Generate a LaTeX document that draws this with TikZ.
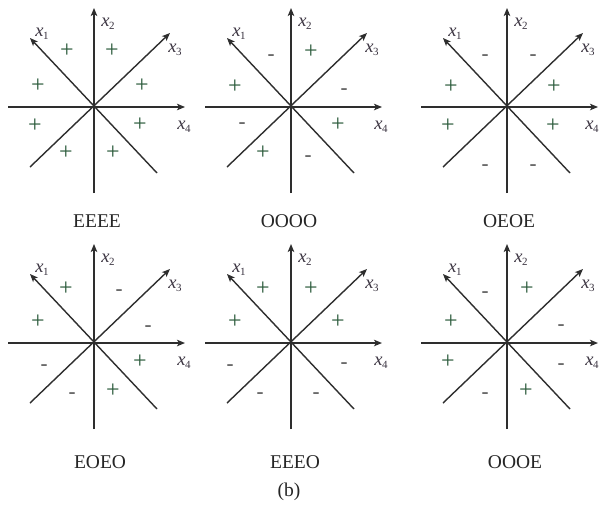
\documentclass[tikz,border=0pt]{standalone}
\usepackage{fontspec}
\setmainfont{Liberation Serif}
\usetikzlibrary{arrows.meta}
\definecolor{axc}{HTML}{2E2E2E}
\definecolor{pc}{HTML}{2A5A3A}
\definecolor{mc}{HTML}{505050}
\definecolor{lc}{HTML}{3A3340}
\tikzset{
  axline/.style={draw=axc, line width=1.4pt},
  axarrow/.style={axline, -{Stealth[length=8pt,width=6.5pt,inset=2pt]}},
  axlab/.style={text=lc, inner sep=0pt, font=\fontsize{18.5}{18.5}\selectfont\itshape},
  psign/.style={node contents={+}, text=pc, anchor=base, yshift=-5.8pt, inner sep=0pt, font=\fontsize{24}{24}\selectfont},
  msign/.style={node contents={-}, text=mc, anchor=base, yshift=-5pt, inner sep=0pt, font=\fontsize{21}{21}\selectfont},
  caption/.style={text=black!85, inner sep=0pt, font=\fontsize{19.5}{19.5}\selectfont},
}
\newcommand\sub[1]{\kern-0.02em\raisebox{-0.35ex}{\fontsize{11}{11}\selectfont\upshape #1}}
\newcommand\drawpanel[5]{%
  \begin{scope}[shift={(#2,#3)}]
    \coordinate (#1o) at (0,0);
    \coordinate (#1t) at (0,-99);
    \coordinate (#1b) at (0,86);
    \coordinate (#1l) at (-86,0);
    \coordinate (#1r) at (91,0);
    \coordinate (#1a) at (-64,-69);
    \coordinate (#1ae) at (63,66);
    \coordinate (#1c) at (76,-74);
    \coordinate (#1ce) at (-64,60);
    \draw[axarrow] (#1b) -- (#1t);
    \draw[axarrow] (#1l) -- (#1r);
    \draw[axarrow] (#1ae) -- (#1a);
    \draw[axarrow] (#1ce) -- (#1c);
    \node[axlab] (#1xa) at (-52,-73) {x\sub{1}};
    \node[axlab] (#1xb) at (14,-83) {x\sub{2}};
    \node[axlab] (#1xc) at (81,-57) {x\sub{3}};
    \node[axlab] (#1xd) at (#5,20) {x\sub{4}};
    \foreach \sx/\sy/\s [count=\i] in {#4} {
      \node (#1s\i) at (\sx,\sy) [\s];
    }
  \end{scope}}
\begin{document}
\begin{tikzpicture}[x=1pt,y=-1pt]
  \fill[white] (0,0) rectangle (602,507);
  \useasboundingbox (0,0) rectangle (602,507);
  % Panel 1 EEEE
  \drawpanel{p}{94}{107}{-27/-55/psign, 18/-55/psign, 48/-20/psign, 46/19/psign, 19/47/psign, -28/47/psign, -59/20/psign, -56/-20/psign}{90}
  % Panel 2 OOOO
  \drawpanel{q}{291}{107}{-20/-52/msign, 20/-54/psign, 53/-18/msign, 47/19/psign, 17/49/msign, -28/47/psign, -49/16/msign, -56/-19/psign}{90}
  % Panel 3 OEOE
  \drawpanel{r}{507}{107}{-22/-52/msign, 26/-52/msign, 47/-19/psign, 46/20/psign, 26/58/msign, -22/58/msign, -59/20/psign, -56/-19/psign}{85}
  % Panel 4 EOEO
  \drawpanel{s}{94}{343}{-28/-53/psign, 25/-53/msign, 54/-17/msign, 46/20/psign, 19/49/psign, -22/50/msign, -50/22/msign, -56/-20/psign}{90}
  % Panel 5 EEEO
  \drawpanel{u}{291}{343}{-28/-53/psign, 20/-53/psign, 47/-20/psign, 53/20/msign, 25/50/msign, -31/50/msign, -61/22/msign, -56/-20/psign}{90}
  % Panel 6 OOOE
  \drawpanel{v}{507}{343}{-22/-51/msign, 20/-53/psign, 54/-18/msign, 54/21/msign, 19/49/psign, -22/50/msign, -59/20/psign, -56/-20/psign}{85}
  % captions
  \node[caption] (c1) at (97,221) {EEEE};
  \node[caption] (c2) at (289,221) {OOOO};
  \node[caption] (c3) at (509,221) {OEOE};
  \node[caption] (c4) at (100,462) {EOEO};
  \node[caption] (c5) at (295,462) {EEEO};
  \node[caption] (c6) at (515,462) {OOOE};
  \node[caption] (cb) at (289,492) {(b)};
\end{tikzpicture}
\end{document}
